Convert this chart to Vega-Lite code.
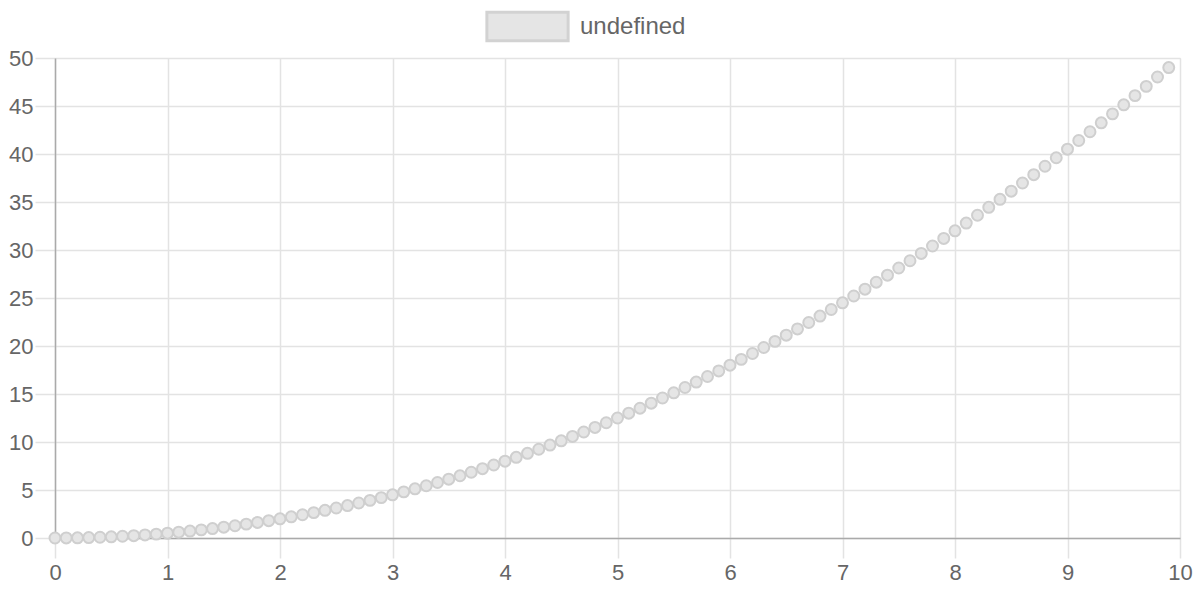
{
  "$schema": "https://vega.github.io/schema/vega-lite/v6.json",
  "width": 1125,
  "height": 480,
  "autosize": {"type": "none"},
  "padding": {"left": 55, "top": 58, "right": 20, "bottom": 58},
  "data": {
    "values": [
      {"x": 0, "y": 0}, {"x": 0.1, "y": 0.005}, {"x": 0.2, "y": 0.02}, {"x": 0.3, "y": 0.045}, {"x": 0.4, "y": 0.08},
      {"x": 0.5, "y": 0.125}, {"x": 0.6, "y": 0.18}, {"x": 0.7, "y": 0.245}, {"x": 0.8, "y": 0.32}, {"x": 0.9, "y": 0.405},
      {"x": 1, "y": 0.5}, {"x": 1.1, "y": 0.605}, {"x": 1.2, "y": 0.72}, {"x": 1.3, "y": 0.845}, {"x": 1.4, "y": 0.98},
      {"x": 1.5, "y": 1.125}, {"x": 1.6, "y": 1.28}, {"x": 1.7, "y": 1.445}, {"x": 1.8, "y": 1.62}, {"x": 1.9, "y": 1.805},
      {"x": 2, "y": 2}, {"x": 2.1, "y": 2.205}, {"x": 2.2, "y": 2.42}, {"x": 2.3, "y": 2.645}, {"x": 2.4, "y": 2.88},
      {"x": 2.5, "y": 3.125}, {"x": 2.6, "y": 3.38}, {"x": 2.7, "y": 3.645}, {"x": 2.8, "y": 3.92}, {"x": 2.9, "y": 4.205},
      {"x": 3, "y": 4.5}, {"x": 3.1, "y": 4.805}, {"x": 3.2, "y": 5.12}, {"x": 3.3, "y": 5.445}, {"x": 3.4, "y": 5.78},
      {"x": 3.5, "y": 6.125}, {"x": 3.6, "y": 6.48}, {"x": 3.7, "y": 6.845}, {"x": 3.8, "y": 7.22}, {"x": 3.9, "y": 7.605},
      {"x": 4, "y": 8}, {"x": 4.1, "y": 8.405}, {"x": 4.2, "y": 8.82}, {"x": 4.3, "y": 9.245}, {"x": 4.4, "y": 9.68},
      {"x": 4.5, "y": 10.125}, {"x": 4.6, "y": 10.58}, {"x": 4.7, "y": 11.045}, {"x": 4.8, "y": 11.52}, {"x": 4.9, "y": 12.005},
      {"x": 5, "y": 12.5}, {"x": 5.1, "y": 13.005}, {"x": 5.2, "y": 13.52}, {"x": 5.3, "y": 14.045}, {"x": 5.4, "y": 14.58},
      {"x": 5.5, "y": 15.125}, {"x": 5.6, "y": 15.68}, {"x": 5.7, "y": 16.245}, {"x": 5.8, "y": 16.82}, {"x": 5.9, "y": 17.405},
      {"x": 6, "y": 18}, {"x": 6.1, "y": 18.605}, {"x": 6.2, "y": 19.22}, {"x": 6.3, "y": 19.845}, {"x": 6.4, "y": 20.48},
      {"x": 6.5, "y": 21.125}, {"x": 6.6, "y": 21.78}, {"x": 6.7, "y": 22.445}, {"x": 6.8, "y": 23.12}, {"x": 6.9, "y": 23.805},
      {"x": 7, "y": 24.5}, {"x": 7.1, "y": 25.205}, {"x": 7.2, "y": 25.92}, {"x": 7.3, "y": 26.645}, {"x": 7.4, "y": 27.38},
      {"x": 7.5, "y": 28.125}, {"x": 7.6, "y": 28.88}, {"x": 7.7, "y": 29.645}, {"x": 7.8, "y": 30.42}, {"x": 7.9, "y": 31.205},
      {"x": 8, "y": 32}, {"x": 8.1, "y": 32.805}, {"x": 8.2, "y": 33.62}, {"x": 8.3, "y": 34.445}, {"x": 8.4, "y": 35.28},
      {"x": 8.5, "y": 36.125}, {"x": 8.6, "y": 36.98}, {"x": 8.7, "y": 37.845}, {"x": 8.8, "y": 38.72}, {"x": 8.9, "y": 39.605},
      {"x": 9, "y": 40.5}, {"x": 9.1, "y": 41.405}, {"x": 9.2, "y": 42.32}, {"x": 9.3, "y": 43.245}, {"x": 9.4, "y": 44.18},
      {"x": 9.5, "y": 45.125}, {"x": 9.6, "y": 46.08}, {"x": 9.7, "y": 47.045}, {"x": 9.8, "y": 48.02}, {"x": 9.9, "y": 49.005}
    ]
  },
  "transform": [{"calculate": "'undefined'", "as": "series"}],
  "mark": {
    "type": "point",
    "shape": "circle",
    "filled": true,
    "size": 120,
    "opacity": 1,
    "stroke": "#cfcfcf",
    "strokeWidth": 2,
    "clip": false
  },
  "encoding": {
    "x": {
      "field": "x",
      "type": "quantitative",
      "scale": {"domain": [0, 10], "nice": false, "zero": false},
      "axis": {
        "title": null,
        "values": [0, 1, 2, 3, 4, 5, 6, 7, 8, 9, 10],
        "tickSize": 20,
        "labelPadding": 4,
        "labelFlush": false,
        "labelBound": false,
        "domainColor": "#aaaaaa",
        "domainWidth": 1.5
      }
    },
    "y": {
      "field": "y",
      "type": "quantitative",
      "scale": {"domain": [0, 50], "nice": false},
      "axis": {
        "title": null,
        "values": [0, 5, 10, 15, 20, 25, 30, 35, 40, 45, 50],
        "tickSize": 20,
        "labelPadding": 2,
        "labelFlush": false,
        "labelBound": false,
        "domainColor": "#aaaaaa",
        "domainWidth": 1.5
      }
    },
    "color": {
      "field": "series",
      "type": "nominal",
      "scale": {"range": ["#e5e5e5"]},
      "legend": {
        "title": null,
        "orient": "none",
        "legendX": 430,
        "legendY": -74,
        "symbolType": "M-1,-0.35L1,-0.35L1,0.35L-1,0.35Z",
        "symbolSize": 6600,
        "symbolStrokeColor": "#d2d2d2",
        "symbolStrokeWidth": 3,
        "symbolOpacity": 1,
        "labelFontSize": 24,
        "labelColor": "#666666",
        "labelFont": "Liberation Sans",
        "labelOffset": 10
      }
    }
  },
  "config": {
    "view": {"stroke": "#e3e3e3", "strokeWidth": 1},
    "axis": {
      "grid": true,
      "gridColor": "#e3e3e3",
      "gridWidth": 1.5,
      "tickColor": "#e3e3e3",
      "tickWidth": 1.5,
      "labelFont": "Liberation Sans",
      "labelFontSize": 22,
      "labelColor": "#666666"
    }
  }
}
